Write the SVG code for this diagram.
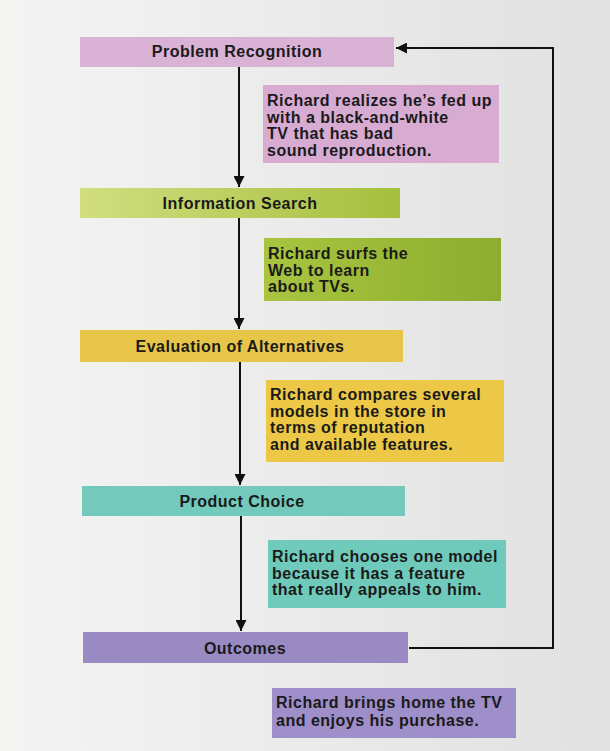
<svg xmlns="http://www.w3.org/2000/svg" width="610" height="751" viewBox="0 0 610 751">
<defs>
<linearGradient id="bg" x1="0" y1="0" x2="1" y2="0">
<stop offset="0" stop-color="#f4f4f3"/>
<stop offset="1" stop-color="#e1e1e1"/>
</linearGradient>
<linearGradient id="green1" x1="0" y1="0" x2="1" y2="0">
<stop offset="0" stop-color="#d1de80"/>
<stop offset="1" stop-color="#a5bf3d"/>
</linearGradient>
<linearGradient id="green2" x1="0" y1="0" x2="1" y2="0">
<stop offset="0" stop-color="#a9c540"/>
<stop offset="1" stop-color="#8dad2f"/>
</linearGradient>
<marker id="ah" viewBox="0 0 10 10" refX="10" refY="5" markerWidth="11" markerHeight="11" markerUnits="userSpaceOnUse" orient="auto">
<path d="M0,0 L10,5 L0,10 Z" fill="#111"/>
</marker>
</defs>
<style>
.step{font-family:"Liberation Sans",Arial,sans-serif;font-weight:bold;font-size:16px;letter-spacing:0.5px;fill:#1a1a1a;text-anchor:middle}
.note{font-family:"Liberation Sans",Arial,sans-serif;font-weight:bold;font-size:16px;letter-spacing:0.5px;fill:#1a1a1a}
.ln{stroke:#111;stroke-width:2;fill:none}
</style>
<rect x="0" y="0" width="610" height="751" fill="url(#bg)"/>
<g id="connectors">
<line class="ln" x1="239" y1="67" x2="239" y2="187" marker-end="url(#ah)"/>
<line class="ln" x1="239" y1="218" x2="239" y2="329" marker-end="url(#ah)"/>
<line class="ln" x1="240" y1="362" x2="240" y2="485" marker-end="url(#ah)"/>
<line class="ln" x1="241" y1="516" x2="241" y2="631" marker-end="url(#ah)"/>
<polyline class="ln" points="409,648 553,648 553,48 396,48" marker-end="url(#ah)"/>
</g>
<g id="problem-recognition">
<rect x="80" y="37" width="314" height="30" fill="#dab2d5"/>
<text class="step" x="237" y="57">Problem Recognition</text>
</g>
<g id="note-problem">
<rect x="263" y="85" width="236" height="78" fill="#d8abd3"/>
<text class="note" x="267" y="106">Richard realizes he’s fed up</text>
<text class="note" x="267" y="122.5">with a black-and-white</text>
<text class="note" x="267" y="139">TV that has bad</text>
<text class="note" x="267" y="155.5">sound reproduction.</text>
</g>
<g id="information-search">
<rect x="80" y="188" width="320" height="30" fill="url(#green1)"/>
<text class="step" x="240" y="209">Information Search</text>
</g>
<g id="note-search">
<rect x="264" y="238" width="237" height="63" fill="url(#green2)"/>
<text class="note" x="268" y="259">Richard surfs the</text>
<text class="note" x="268" y="275.5">Web to learn</text>
<text class="note" x="268" y="292">about TVs.</text>
</g>
<g id="evaluation">
<rect x="80" y="330" width="323" height="32" fill="#e7c548"/>
<text class="step" x="240" y="352">Evaluation of Alternatives</text>
</g>
<g id="note-evaluation">
<rect x="266" y="380" width="238" height="82" fill="#ecc846"/>
<text class="note" x="270" y="400">Richard compares several</text>
<text class="note" x="270" y="416.5">models in the store in</text>
<text class="note" x="270" y="433">terms of reputation</text>
<text class="note" x="270" y="449.5">and available features.</text>
</g>
<g id="product-choice">
<rect x="82" y="486" width="323" height="30" fill="#73c9bb"/>
<text class="step" x="242" y="507">Product Choice</text>
</g>
<g id="note-choice">
<rect x="268" y="540" width="238" height="68" fill="#70cabb"/>
<text class="note" x="272" y="562">Richard chooses one model</text>
<text class="note" x="272" y="578.5">because it has a feature</text>
<text class="note" x="272" y="595">that really appeals to him.</text>
</g>
<g id="outcomes">
<rect x="83" y="632" width="325" height="31" fill="#998ac4"/>
<text class="step" x="245" y="654">Outcomes</text>
</g>
<g id="note-outcomes">
<rect x="272" y="688" width="244" height="50" fill="#9e8ec9"/>
<text class="note" x="276" y="708">Richard brings home the TV</text>
<text class="note" x="276" y="726">and enjoys his purchase.</text>
</g>
</svg>
